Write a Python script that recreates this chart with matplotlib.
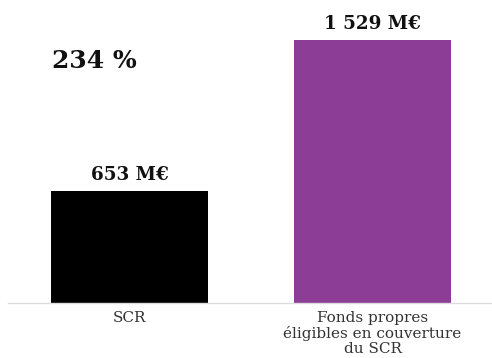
import matplotlib
matplotlib.use("Agg")
import matplotlib.pyplot as plt

categories = ["SCR", "Fonds propres\néligibles en couverture\ndu SCR"]
values = [653, 1529]
value_labels = ["653 M€", "1 529 M€"]
colors = ["#000000", "#8C3D95"]
ratio_label = "234 %"

W, H = 492, 358
fig = plt.figure(figsize=(W / 100, H / 100), dpi=100)
ax = fig.add_axes([8 / W, 55 / H, 486 / W, 303 / H])

x = range(len(values))
ax.bar(x, values, width=0.642, color=colors)
ax.set_xlim(-0.5, 1.5)
ax.set_ylim(0, 1761)

for xi, v, lab in zip(x, values, value_labels):
    ax.text(xi, v + 40, lab, ha="center", va="bottom",
            fontsize=13.2, fontweight="bold", family="DejaVu Serif", color="#111111")

ax.text(52 / W, 1 - 68 / H, ratio_label, transform=fig.transFigure,
        ha="left", va="baseline", fontsize=18, fontweight="bold",
        family="DejaVu Serif", color="#111111")

ax.set_xticks(list(x))
ax.set_xticklabels(categories, family="DejaVu Serif", fontsize=11,
                   color="#333333", linespacing=1.07)
ax.tick_params(axis="x", length=0, pad=6)
ax.set_yticks([])
for s in ["top", "right", "left"]:
    ax.spines[s].set_visible(False)
ax.spines["bottom"].set_color("#dddddd")
ax.spines["bottom"].set_linewidth(1)

fig.savefig("out.png", dpi=100)
